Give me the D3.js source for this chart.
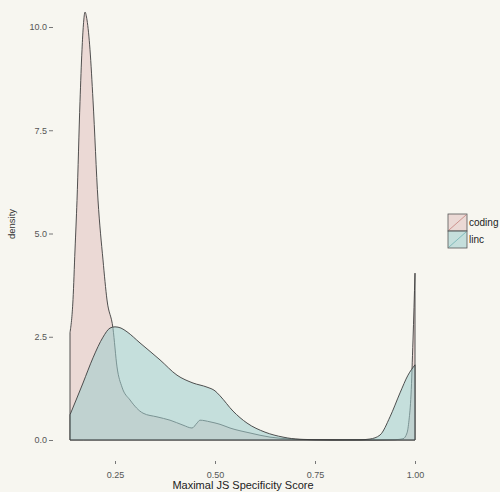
<!DOCTYPE html>
<html>
<head>
<meta charset="utf-8">
<script src="https://cdn.jsdelivr.net/npm/d3@7/dist/d3.min.js"></script>
<style>
  html, body { margin: 0; padding: 0; background: #f7f6f0; }
  svg { display: block; font-family: "Liberation Sans", Arial, sans-serif; }
</style>
</head>
<body>
<svg id="chart" width="500" height="492"></svg>
<script>
// ---- data ----
const seriesNames = ["coding", "linc"];
const codingX = [0.1375, 0.145, 0.15, 0.155, 0.1625, 0.1675, 0.171, 0.175, 0.18, 0.1875, 0.195, 0.2075, 0.22, 0.23, 0.245, 0.255, 0.2675, 0.2875, 0.32, 0.355, 0.3875, 0.42, 0.4425, 0.455, 0.4625, 0.4875, 0.5125, 0.5375, 0.5875, 0.6375, 0.6875, 0.7375, 0.8, 0.9, 0.95, 0.97, 0.98, 0.985, 0.99, 0.995, 1.0];
const codingY = [2.6, 3.4, 4.6, 5.8, 8.2, 9.45, 10.05, 10.36, 10.17, 9.45, 8.23, 5.81, 4.36, 3.39, 2.7, 1.77, 1.28, 0.97, 0.65, 0.56, 0.48, 0.36, 0.29, 0.41, 0.48, 0.44, 0.38, 0.29, 0.17, 0.07, 0.025, 0.008, 0.002, 0.002, 0.008, 0.03, 0.17, 0.48, 1.09, 2.42, 4.04];
const lincX = [0.1375, 0.17, 0.195, 0.22, 0.2375, 0.25, 0.265, 0.28, 0.3125, 0.3625, 0.405, 0.445, 0.48, 0.5, 0.5125, 0.545, 0.58, 0.625, 0.67, 0.7125, 0.7875, 0.8625, 0.8875, 0.9125, 0.9375, 0.9625, 0.9825, 1.0];
const lincY = [0.61, 1.38, 1.99, 2.49, 2.71, 2.74, 2.71, 2.62, 2.35, 1.94, 1.57, 1.38, 1.28, 1.19, 1.07, 0.70, 0.41, 0.19, 0.07, 0.017, 0.003, 0.005, 0.024, 0.12, 0.56, 1.14, 1.57, 1.82];
const xTicks = [0.25, 0.50, 0.75, 1.00];
const xTickLabels = ["0.25", "0.50", "0.75", "1.00"];
const yTicks = [0, 2.5, 5, 7.5, 10];
const yTickLabels = ["0.0", "2.5", "5.0", "7.5", "10.0"];
const xTitle = "Maximal JS Specificity Score";
const yTitle = "density";

// ---- drawing ----
const svg = d3.select("#chart");
const x = d3.scaleLinear().domain([0.25, 1]).range([115, 415]);
const y = d3.scaleLinear().domain([0, 10]).range([440, 27]);
const fills = { coding: "#ebd9d5", linc: "#9ccccc" };
const opac = { coding: 1, linc: 0.55 };

const series = [
  { name: "coding", pts: codingX.map((v, i) => [v, codingY[i]]) },
  { name: "linc", pts: lincX.map((v, i) => [v, lincY[i]]) }
];

const area = d3.area()
  .x(d => x(d[0]))
  .y0(y(0))
  .y1(d => y(d[1]))
  .curve(d3.curveMonotoneX);

series.forEach(s => {
  svg.append("path")
    .datum(s.pts)
    .attr("d", area)
    .attr("fill", fills[s.name])
    .attr("fill-opacity", opac[s.name])
    .attr("stroke", "#3d3d3d")
    .attr("stroke-width", 0.9)
    .attr("stroke-linejoin", "round");
});

// y axis
const yAxis = d3.axisLeft(y)
  .tickValues(yTicks)
  .tickFormat((d, i) => yTickLabels[i])
  .tickSize(4)
  .tickPadding(2);
const gy = svg.append("g").attr("transform", "translate(53,0)").call(yAxis);
gy.select(".domain").remove();
gy.selectAll("line").attr("stroke", "#777");
gy.selectAll("text").attr("fill", "#555").style("font-size", "9px");

// x axis
const xAxis = d3.axisBottom(x)
  .tickValues(xTicks)
  .tickFormat((d, i) => xTickLabels[i])
  .tickSize(3)
  .tickPadding(8);
const gx = svg.append("g").attr("transform", "translate(0,461)").call(xAxis);
gx.select(".domain").remove();
gx.selectAll("line").attr("stroke", "#777");
gx.selectAll("text").attr("fill", "#555").style("font-size", "9px");

// titles
svg.append("text")
  .attr("x", 243).attr("y", 489)
  .attr("text-anchor", "middle")
  .attr("fill", "#222")
  .style("font-size", "11px")
  .text(xTitle);
svg.append("text")
  .attr("transform", "translate(15,224) rotate(-90)")
  .attr("text-anchor", "middle")
  .attr("fill", "#333")
  .style("font-size", "9.5px")
  .text(yTitle);

// legend
const leg = svg.append("g").attr("transform", "translate(448,214)");
seriesNames.forEach((n, i) => {
  const g = leg.append("g").attr("transform", `translate(0,${i * 17})`);
  g.append("rect").attr("width", 19).attr("height", 17)
    .attr("fill", fills[n]).attr("fill-opacity", opac[n])
    .attr("stroke", "#555").attr("stroke-width", 0.8);
  g.append("line").attr("x1", 1).attr("y1", 16).attr("x2", 18).attr("y2", 1)
    .attr("stroke", n === "coding" ? "#c98a86" : "#7ab8b8").attr("stroke-width", 0.9);
  g.append("text").attr("x", 21).attr("y", 12)
    .attr("fill", "#222")
    .style("font-size", "10px")
    .text(n);
});
</script>
</body>
</html>
